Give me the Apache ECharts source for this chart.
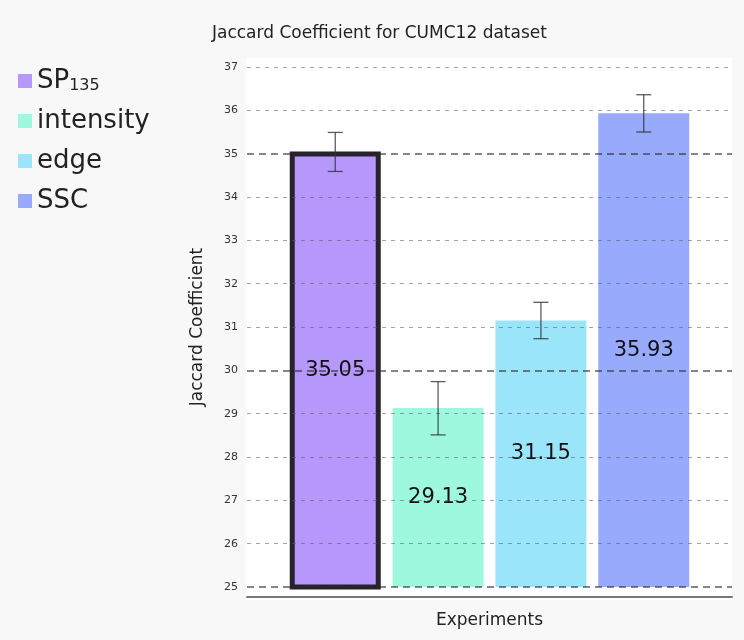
<!DOCTYPE html>
<html>
<head>
<meta charset="utf-8">
<script src="https://cdn.jsdelivr.net/npm/echarts@6/dist/echarts.min.js"></script>
<style>
html,body{margin:0;padding:0;background:#f8f8f8;}
#c{width:744px;height:640px;}
</style>
</head>
<body>
<div id="c"></div>
<script>
const seriesNames = ['SP135', 'intensity', 'edge', 'SSC'];
const means = [35.05, 29.13, 31.15, 35.93];
const errLow = [34.59, 28.51, 30.73, 35.50];
const errHigh = [35.49, 29.74, 31.57, 36.36];
const colors = ['#b697fb', '#9ef8dd', '#9be5fb', '#98aafc'];
const categories = [''];
const majorLines = [25, 30, 35];
const yMin = 25, yMax = 37;

const FONT = 'DejaVu Sans';
const BAR_W = 91;
const GAP_PCT = 13;

const chart = echarts.init(document.getElementById('c'), null, {renderer: 'canvas'});

const barSeries = seriesNames.map((name, i) => ({
  name: name,
  type: 'bar',
  data: [means[i]],
  barWidth: BAR_W,
  barGap: GAP_PCT + '%',
  itemStyle: i === 0 ? {color: colors[i], borderColor: '#27232d', borderWidth: 5} : {color: colors[i]},
  label: {
    show: true, position: 'inside', fontFamily: FONT, fontSize: 21, color: '#111',
    formatter: p => p.value.toFixed(2)
  },
  z: 2
}));

const errData = seriesNames.map((n, i) => [0, errLow[i], errHigh[i], i]);

const option = {
  backgroundColor: '#f8f8f8',
  animation: false,
  graphic: [{
    type: 'rect', left: 246, top: 58, z: -10,
    shape: {width: 486, height: 542},
    style: {fill: '#ffffff'}
  }],
  title: {
    text: 'Jaccard Coefficient for CUMC12 dataset',
    left: 207, top: 20,
    textStyle: {fontFamily: FONT, fontSize: 17, fontWeight: 'normal', color: '#222'}
  },
  legend: {
    orient: 'vertical', left: 13, top: 63,
    icon: 'rect', itemWidth: 14, itemHeight: 14, itemGap: 14,
    data: seriesNames.map(n => ({name: n, itemStyle: {borderWidth: 0}})),
    formatter: name => name === 'SP135' ? 'SP{s|135}' : name,
    textStyle: {
      fontFamily: FONT, fontSize: 26, color: '#222',
      rich: {s: {fontFamily: FONT, fontSize: 16, color: '#222', verticalAlign: 'bottom', padding: [6, 0, 0, 0]}}
    }
  },
  grid: {left: 247, right: 12, top: 67, bottom: 53},
  xAxis: {
    type: 'category', data: categories, offset: 10,
    name: 'Experiments', nameLocation: 'middle', nameGap: 15,
    nameTextStyle: {fontFamily: FONT, fontSize: 17, color: '#222'},
    axisLine: {lineStyle: {color: '#777', width: 2}},
    axisTick: {show: false}, axisLabel: {show: false}
  },
  yAxis: {
    type: 'value', min: yMin, max: yMax, interval: 1, z: 5,
    name: 'Jaccard Coefficient', nameLocation: 'middle', nameGap: 41,
    nameTextStyle: {fontFamily: FONT, fontSize: 17, color: '#222'},
    axisLine: {show: false}, axisTick: {show: false},
    axisLabel: {fontFamily: FONT, fontSize: 11, color: '#333', margin: 9},
    splitLine: {lineStyle: {
      color: ['rgba(0,0,0,0)', 'rgba(90,90,90,0.55)', 'rgba(90,90,90,0.55)', 'rgba(90,90,90,0.55)', 'rgba(90,90,90,0.55)'],
      type: [4, 5], width: 1
    }}
  },
  series: barSeries.concat([{
    name: 'err', type: 'custom', z: 6,
    encode: {x: 0, y: [1, 2]},
    data: errData,
    renderItem: function (params, api) {
      const idx = api.value(3);
      const lo = api.coord([api.value(0), api.value(1)]);
      const hi = api.coord([api.value(0), api.value(2)]);
      const step = BAR_W * (1 + GAP_PCT / 100);
      const x = lo[0] + (idx - (seriesNames.length - 1) / 2) * step;
      const cap = 7.5;
      const st = {stroke: 'rgba(50,50,50,0.8)', lineWidth: 1.3, fill: null};
      return {type: 'group', children: [
        {type: 'line', shape: {x1: x, y1: lo[1], x2: x, y2: hi[1]}, style: st},
        {type: 'line', shape: {x1: x - cap, y1: lo[1], x2: x + cap, y2: lo[1]}, style: st},
        {type: 'line', shape: {x1: x - cap, y1: hi[1], x2: x + cap, y2: hi[1]}, style: st}
      ]};
    },
    markLine: {
      silent: true, symbol: 'none', label: {show: false},
      lineStyle: {color: 'rgba(40,40,40,0.75)', type: [7, 5], width: 1.5},
      data: majorLines.map(v => ({yAxis: v}))
    }
  }])
};
chart.setOption(option);
</script>
</body>
</html>
